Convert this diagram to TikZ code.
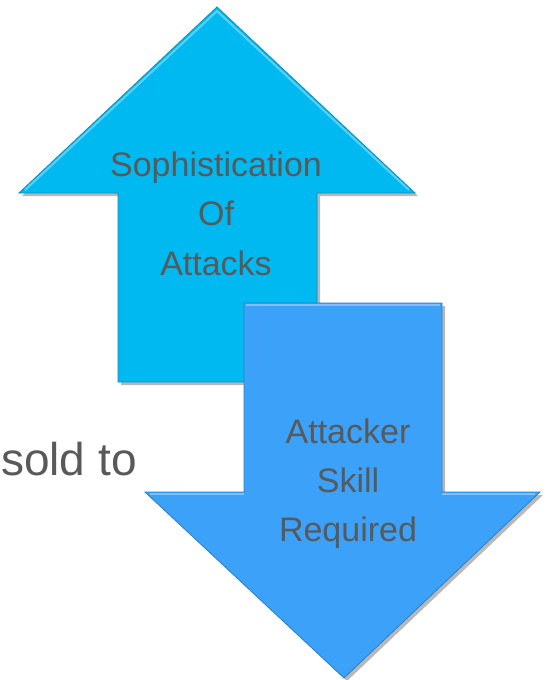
\documentclass[tikz,border=0pt]{standalone}
\usepackage{fontspec}
\setmainfont{Liberation Sans}
\definecolor{upblue}{HTML}{00B9F1}
\definecolor{upedge}{HTML}{0A8FC0}
\definecolor{downblue}{HTML}{3BA1F9}
\definecolor{downedge}{HTML}{2A7FC8}
\definecolor{txtgray}{HTML}{595959}
\tikzset{
  arrowshadow/.style={fill=black,opacity=0.28},
  label/.style={anchor=base,text=txtgray,font=\fontsize{34}{40}\selectfont,inner sep=0pt},
  bevel/.style={white,opacity=0.35,line width=2pt},
}
\begin{document}
\begin{tikzpicture}[x=1pt,y=-1pt]
\useasboundingbox (0,0) rectangle (546,680);
% up arrow
\fill[arrowshadow,xshift=3pt,yshift=-3pt] (217,7) -- (415,193) -- (317,193) -- (317,382) -- (118,382) -- (118,193) -- (19,193) -- cycle;
\path[fill=upblue,draw=upedge,line width=0.8pt,line join=miter] (217,7) -- (415,193) -- (317,193) -- (317,382) -- (118,382) -- (118,193) -- (19,193) -- cycle;
\draw[bevel] (25,190) -- (217,11) -- (409,190);
\node[label] (u1) at (216,176) {Sophistication};
\node[label] (u2) at (216,225) {Of};
\node[label] (u3) at (216,275) {Attacks};
% down arrow
\fill[arrowshadow,xshift=3pt,yshift=-3pt] (244,303) -- (442,303) -- (442,492) -- (540,492) -- (344,678) -- (145,492) -- (244,492) -- cycle;
\path[fill=downblue,draw=downedge,line width=0.8pt,line join=miter] (244,303) -- (442,303) -- (442,492) -- (540,492) -- (344,678) -- (145,492) -- (244,492) -- cycle;
\draw[bevel] (246,305) -- (440,305);
\draw[bevel] (150,494) -- (244,494);
\draw[bevel] (442,494) -- (535,494);
\node[label] (d1) at (348,443) {Attacker};
\node[label] (d2) at (348,492) {Skill};
\node[label] (d3) at (348,541) {Required};
% side text
\node[anchor=base west,text=txtgray,font=\fontsize{46}{50}\selectfont,inner sep=0pt] (sold) at (1,475) {sold to};
\end{tikzpicture}
\end{document}
